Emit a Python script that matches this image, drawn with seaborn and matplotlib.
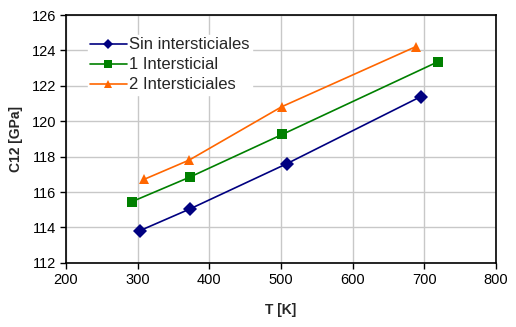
import matplotlib
matplotlib.use("Agg")
import matplotlib.pyplot as plt
import seaborn as sns
import pandas as pd

series_names = ["Sin intersticiales", "1 Intersticial", "2 Intersticiales"]
T_sin = [303, 373, 508, 695]
C_sin = [113.82, 115.05, 117.60, 121.39]
T_1 = [292, 373, 502, 719]
C_1 = [115.46, 116.85, 119.26, 123.36]
T_2 = [309, 372, 501, 688]
C_2 = [116.72, 117.81, 120.82, 124.21]
x_ticks = [200, 300, 400, 500, 600, 700, 800]
y_ticks = [112, 114, 116, 118, 120, 122, 124, 126]

rows = []
for name, ts, cs in zip(series_names, [T_sin, T_1, T_2], [C_sin, C_1, C_2]):
    for t, c in zip(ts, cs):
        rows.append({"T": t, "C12": c, "serie": name})
df = pd.DataFrame(rows)

sns.set_theme(style="whitegrid")
plt.rcParams["font.family"] = ["Liberation Sans", "DejaVu Sans"]

fig = plt.figure(figsize=(5.16, 3.27), dpi=100)
ax = fig.add_axes([0.128, 0.196, 0.833, 0.758])

palette = {"Sin intersticiales": "#000080", "1 Intersticial": "#008000", "2 Intersticiales": "#FF6600"}
markers = {"Sin intersticiales": "D", "1 Intersticial": "s", "2 Intersticiales": "^"}
sns.lineplot(data=df, x="T", y="C12", hue="serie", style="serie", palette=palette,
             markers=markers, dashes=False, sort=False, ax=ax, linewidth=1.2,
             markersize=7, markeredgewidth=0, hue_order=series_names, style_order=series_names)

ax.set_xlim(200, 800)
ax.set_ylim(112, 126)
ax.set_xticks(x_ticks)
ax.set_yticks(y_ticks)
ax.tick_params(axis="both", labelsize=10.5, colors="black", length=4, width=1, direction="out",
               left=True, bottom=True, pad=3)
ax.grid(True, color="#c8c8c8", linewidth=1)
for s in ax.spines.values():
    s.set_color("black")
    s.set_linewidth(1.2)
ax.set_xlabel("T [K]", fontsize=10, fontweight="bold", labelpad=12)
ax.set_ylabel("C12 [GPa]", fontsize=10, fontweight="bold", labelpad=6)

leg = ax.legend(loc="upper left", bbox_to_anchor=(0.05, 0.92), frameon=True, fontsize=12,
                handlelength=2.2, handletextpad=0.15, labelspacing=0.3, borderpad=0.15,
                borderaxespad=0)
for h in leg.legend_handles:
    h.set_markersize(5.5)
leg.get_frame().set_edgecolor("white")
leg.get_frame().set_facecolor("white")
leg.get_frame().set_alpha(1)

fig.savefig("out.png", dpi=100)
